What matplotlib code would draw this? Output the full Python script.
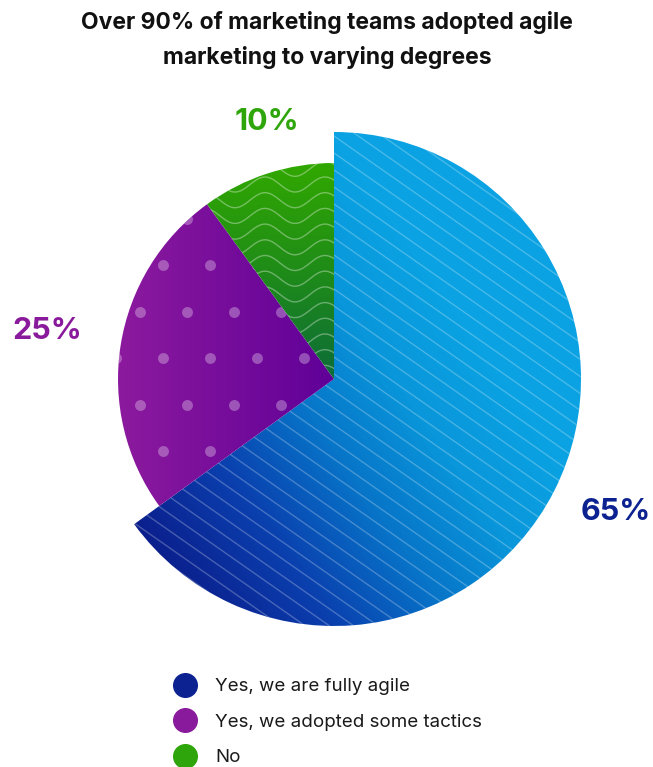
import numpy as np
import matplotlib.pyplot as plt
from matplotlib.colors import LinearSegmentedColormap
from matplotlib.collections import LineCollection
from matplotlib.lines import Line2D

# data
labels = ["Yes, we are fully agile", "Yes, we adopted some tactics", "No"]
shares = [65, 25, 10]
pct_text = ["65%", "25%", "10%"]
title = "Over 90% of marketing teams adopted agile\nmarketing to varying degrees"

# style
solid = ["#0c2290", "#8a1a9c", "#2ea50a"]
radii = [247, 216, 216]
W, H = 653, 767
cx, cy = 334, H - 379

fig = plt.figure(figsize=(W / 100, H / 100), dpi=100)
ax = fig.add_axes([0, 0, 1, 1])

wedges, _ = ax.pie(shares, startangle=90, counterclock=False, center=(cx, cy),
                   radius=radii[0], wedgeprops=dict(linewidth=0))
for w, r in zip(wedges, radii):
    w.set_radius(r)
    w.set_facecolor("none")

ax.set_xlim(0, W)
ax.set_ylim(0, H)
ax.set_aspect("equal")
ax.axis("off")

# gradient fills clipped to each wedge
yy, xx = np.mgrid[0:H, 0:W].astype(float)
ang = np.deg2rad(35)
t_blue = np.clip(((xx - 140) * np.cos(ang) + (yy - (H - 560)) * np.sin(ang)) / 400, 0, 1)
t_purple = np.clip((xx - 118) / 216, 0, 1)
t_green = np.clip(((H - 163) - yy) / 216, 0, 1)

cmaps = [
    LinearSegmentedColormap.from_list("b", [(0, "#0b1a87"), (0.3, "#0a3fae"), (0.55, "#0774c8"),
                                            (0.78, "#0996da"), (1, "#0aa2e2")]),
    LinearSegmentedColormap.from_list("p", ["#8c1a9e", "#600098"]),
    LinearSegmentedColormap.from_list("g", ["#31a800", "#1f8c18", "#0d6c38"]),
]
for w, t, cm in zip(wedges, [t_blue, t_purple, t_green], cmaps):
    im = ax.imshow(cm(t), extent=(0, W, 0, H), origin="lower", interpolation="bilinear", zorder=1)
    im.set_clip_path(w)

# blue: diagonal stripes
slope = -np.tan(np.deg2rad(35))
xs = np.array([cx - 300, cx + 300])
segs = []
for c in np.arange(-420, 420, 17):
    segs.append(np.column_stack([xs, cy + c + slope * (xs - cx)]))
lc = LineCollection(segs, colors=[(1, 1, 1, 0.25)], linewidths=1.0, zorder=2)
ax.add_collection(lc)
lc.set_clip_path(wedges[0])

# purple: staggered dots
dot_x, dot_y = [], []
for i, yrow in enumerate(np.arange(265 - 46.5 * 2, 500, 46.5)):
    x0 = 163 if i % 2 == 0 else 140
    for xd in np.arange(x0 - 47 * 2, 360, 47):
        dot_x.append(xd)
        dot_y.append(H - yrow)
sc = ax.scatter(dot_x, dot_y, s=62, color=(1, 1, 1, 0.3), linewidths=0, zorder=2)
sc.set_clip_path(wedges[1])

# green: waves
wx = np.linspace(150, 360, 400)
wsegs = []
for y0 in np.arange(H - 420, H - 130, 15.7):
    wsegs.append(np.column_stack([wx, y0 - 7.5 * np.cos(2 * np.pi * (wx - 295) / 60)]))
wc = LineCollection(wsegs, colors=[(1, 1, 1, 0.35)], linewidths=1.0, zorder=2)
ax.add_collection(wc)
wc.set_clip_path(wedges[2])

# percentage labels
label_pos = [(616, 512), (47, 331), (267, 122)]
for txt, (lx, ly), c in zip(pct_text, label_pos, solid):
    ax.text(lx, H - ly, txt, ha="center", va="center", fontsize=22, fontweight="bold",
            family="Inter", color=c, zorder=5)

# title
fig.text(327 / W, 1 - 40 / H, title, ha="center", va="center", fontsize=16.5,
         fontweight="bold", family="Inter", linespacing=1.72, color="#111111")

# legend
handles = [Line2D([], [], marker="o", ls="", markersize=17, color=c) for c in solid]
leg = ax.legend(handles, labels, loc="upper left", bbox_to_anchor=(176.6, H - 678),
                bbox_transform=ax.transData, frameon=False, borderpad=0, borderaxespad=0,
                handlelength=0.9, handletextpad=1.15, labelspacing=0.98,
                prop={"family": "Inter", "size": 13.5})
for t in leg.get_texts():
    t.set_color("#1a1a1a")

fig.savefig("out.png", dpi=100)
